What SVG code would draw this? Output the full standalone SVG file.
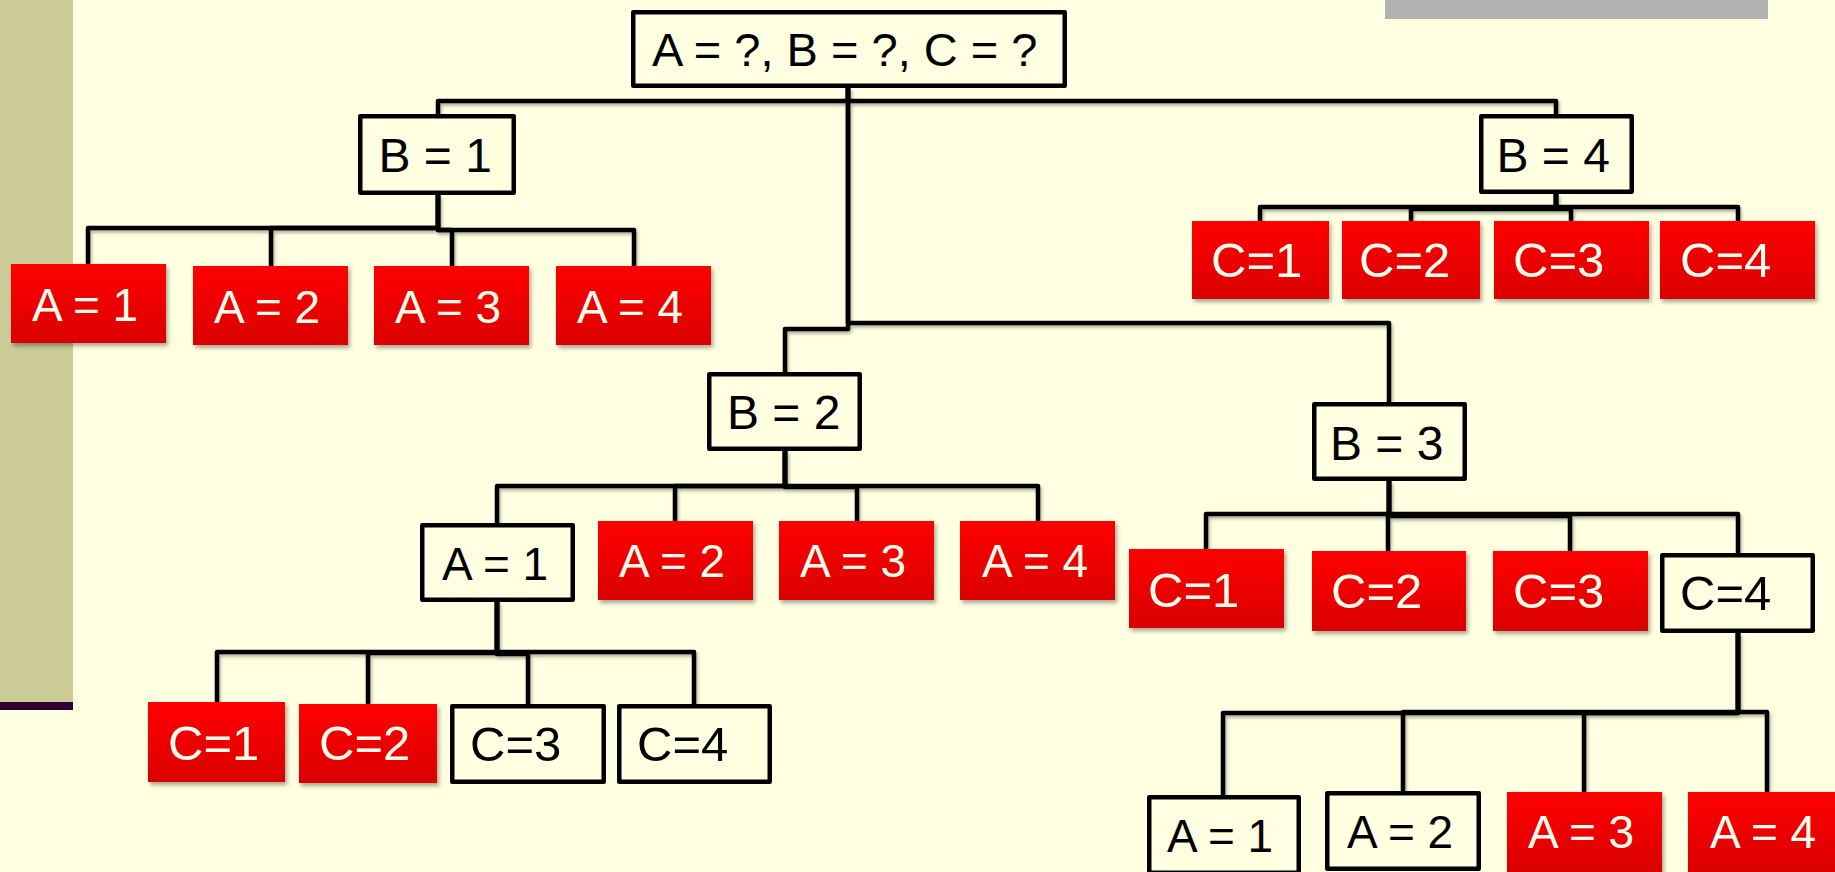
<svg xmlns="http://www.w3.org/2000/svg" width="1835" height="872" viewBox="0 0 1835 872">
  <defs>
    <linearGradient id="red" x1="0" y1="0" x2="0" y2="1">
      <stop offset="0" stop-color="#FF0000"/>
      <stop offset="1" stop-color="#DA0000"/>
    </linearGradient>
    <filter id="sh" x="-10%" y="-10%" width="130%" height="140%">
      <feDropShadow dx="2" dy="3" stdDeviation="2" flood-color="#000" flood-opacity="0.35"/>
    </filter>
    <filter id="shl" x="-5%" y="-5%" width="110%" height="120%">
      <feDropShadow dx="1.5" dy="2.5" stdDeviation="1.8" flood-color="#000" flood-opacity="0.3"/>
    </filter>
  </defs>
  <style>
    .wb { fill: #FFFFE1; stroke: #000; stroke-width: 4.5; stroke-linejoin: round; }
    .rb { fill: url(#red); filter: url(#sh); }
    .t { font-family: "Liberation Sans", Arial, sans-serif; font-size: 46px; }
    .tr { font-size: 47px; }
    .tb { font-size: 48px; }
    .tc { font-size: 49px; }
    .k { fill: #000; }
    .w { fill: #FFFFEE; }
    .cn { fill: none; stroke: #000; stroke-width: 4.5; stroke-linejoin: round; }
  </style>

  <!-- background -->
  <rect x="0" y="0" width="1835" height="872" fill="#FFFFE1"/>
  <rect x="0" y="0" width="73" height="703" fill="#CCCC99"/>
  <rect x="0" y="702" width="73" height="8" fill="#330033"/>
  <rect x="1385" y="0" width="383" height="19" fill="#B2B2B2"/>

  <!-- connectors -->
  <g id="connectors" class="cn" filter="url(#shl)">
    <path d="M848,88 V101 H438 V114"/>
    <path d="M848,88 V101 H1556 V114"/>
    <path d="M848,88 V329 H785 V372"/>
    <path d="M848,88 V323 H1389 V402"/>

    <path d="M438,195 V228 H88 V264"/>
    <path d="M438,195 V228 H271 V266"/>
    <path d="M438,195 V230 H452 V266"/>
    <path d="M438,195 V230 H634 V266"/>

    <path d="M1556,194 V207 H1260 V221"/>
    <path d="M1556,194 V209 H1411 V221"/>
    <path d="M1556,194 V209 H1571 V221"/>
    <path d="M1556,194 V207 H1738 V221"/>

    <path d="M785,451 V486 H497 V523"/>
    <path d="M785,451 V486 H675 V521"/>
    <path d="M785,451 V487 H857 V521"/>
    <path d="M785,451 V486 H1038 V521"/>

    <path d="M497,602 V652 H217 V702"/>
    <path d="M497,602 V653 H368 V704"/>
    <path d="M497,602 V654 H528 V704"/>
    <path d="M497,602 V652 H694 V704"/>

    <path d="M1389,481 V514 H1206 V549"/>
    <path d="M1389,481 V516 H1388 V551"/>
    <path d="M1389,481 V516 H1570 V551"/>
    <path d="M1389,481 V514 H1738 V553"/>

    <path d="M1738,633 V713 H1223 V795"/>
    <path d="M1738,633 V712 H1403 V791"/>
    <path d="M1738,633 V713 H1584 V792"/>
    <path d="M1738,633 V712 H1767 V792"/>
  </g>

  <!-- level 0 -->
  <g id="root">
    <rect class="wb" x="633.25" y="12.25" width="431.5" height="73.5"/>
    <text class="t tr k" x="652" y="66">A = ?, B = ?, C = ?</text>
  </g>

  <!-- B = 1 branch -->
  <g id="b1">
    <rect class="wb" x="360.25" y="116.25" width="153.5" height="76.5"/>
    <text class="t tb k" x="378.5" y="172">B = 1</text>
  </g>
  <g id="b1-a1"><rect class="rb" x="11" y="264" width="155" height="79"/><text class="t w" x="32" y="321">A = 1</text></g>
  <g id="b1-a2"><rect class="rb" x="193" y="266" width="155" height="79"/><text class="t w" x="214" y="323">A = 2</text></g>
  <g id="b1-a3"><rect class="rb" x="374" y="266" width="155" height="79"/><text class="t w" x="395" y="323">A = 3</text></g>
  <g id="b1-a4"><rect class="rb" x="556" y="266" width="155" height="79"/><text class="t w" x="577" y="323">A = 4</text></g>

  <!-- B = 4 branch -->
  <g id="b4">
    <rect class="wb" x="1481.25" y="116.25" width="150.5" height="75.5"/>
    <text class="t tb k" x="1496.5" y="172">B = 4</text>
  </g>
  <g id="b4-c1"><rect class="rb" x="1192" y="221" width="137" height="78"/><text class="t tc w" x="1211" y="277">C=1</text></g>
  <g id="b4-c2"><rect class="rb" x="1342" y="221" width="138" height="78"/><text class="t tc w" x="1359" y="277">C=2</text></g>
  <g id="b4-c3"><rect class="rb" x="1494" y="221" width="155" height="78"/><text class="t tc w" x="1513" y="277">C=3</text></g>
  <g id="b4-c4"><rect class="rb" x="1660" y="221" width="155" height="78"/><text class="t tc w" x="1680" y="277">C=4</text></g>

  <!-- B = 2 branch -->
  <g id="b2">
    <rect class="wb" x="709.25" y="374.25" width="150.5" height="74.5"/>
    <text class="t tb k" x="727" y="429">B = 2</text>
  </g>
  <g id="b2-a1">
    <rect class="wb" x="422.25" y="525.25" width="150.5" height="74.5"/>
    <text class="t k" x="442" y="580">A = 1</text>
  </g>
  <g id="b2-a2"><rect class="rb" x="598" y="521" width="155" height="79"/><text class="t w" x="619" y="577">A = 2</text></g>
  <g id="b2-a3"><rect class="rb" x="779" y="521" width="155" height="79"/><text class="t w" x="800" y="577">A = 3</text></g>
  <g id="b2-a4"><rect class="rb" x="960" y="521" width="155" height="79"/><text class="t w" x="982" y="577">A = 4</text></g>

  <g id="b2-a1-c1"><rect class="rb" x="148" y="702" width="137" height="80"/><text class="t tc w" x="168" y="760">C=1</text></g>
  <g id="b2-a1-c2"><rect class="rb" x="299" y="704" width="138" height="79"/><text class="t tc w" x="319" y="760">C=2</text></g>
  <g id="b2-a1-c3">
    <rect class="wb" x="452.25" y="706.25" width="151.5" height="75.5"/>
    <text class="t tc k" x="470" y="761">C=3</text>
  </g>
  <g id="b2-a1-c4">
    <rect class="wb" x="619.25" y="706.25" width="150.5" height="75.5"/>
    <text class="t tc k" x="637" y="761">C=4</text>
  </g>

  <!-- B = 3 branch -->
  <g id="b3">
    <rect class="wb" x="1314.25" y="404.25" width="150.5" height="74.5"/>
    <text class="t tb k" x="1330" y="460">B = 3</text>
  </g>
  <g id="b3-c1"><rect class="rb" x="1129" y="549" width="155" height="79"/><text class="t tc w" x="1148" y="607">C=1</text></g>
  <g id="b3-c2"><rect class="rb" x="1312" y="551" width="154" height="80"/><text class="t tc w" x="1331" y="608">C=2</text></g>
  <g id="b3-c3"><rect class="rb" x="1493" y="551" width="155" height="80"/><text class="t tc w" x="1513" y="608">C=3</text></g>
  <g id="b3-c4">
    <rect class="wb" x="1662.25" y="555.25" width="150.5" height="75.5"/>
    <text class="t tc k" x="1680" y="610">C=4</text>
  </g>

  <g id="b3-c4-a1">
    <rect class="wb" x="1149.25" y="797.25" width="149.5" height="75.5"/>
    <text class="t k" x="1167" y="852">A = 1</text>
  </g>
  <g id="b3-c4-a2">
    <rect class="wb" x="1327.25" y="793.25" width="151.5" height="75.5"/>
    <text class="t k" x="1347" y="848">A = 2</text>
  </g>
  <g id="b3-c4-a3"><rect class="rb" x="1507" y="792" width="155" height="80"/><text class="t w" x="1528" y="848">A = 3</text></g>
  <g id="b3-c4-a4"><rect class="rb" x="1688" y="792" width="155" height="80"/><text class="t w" x="1710" y="848">A = 4</text></g>
</svg>
